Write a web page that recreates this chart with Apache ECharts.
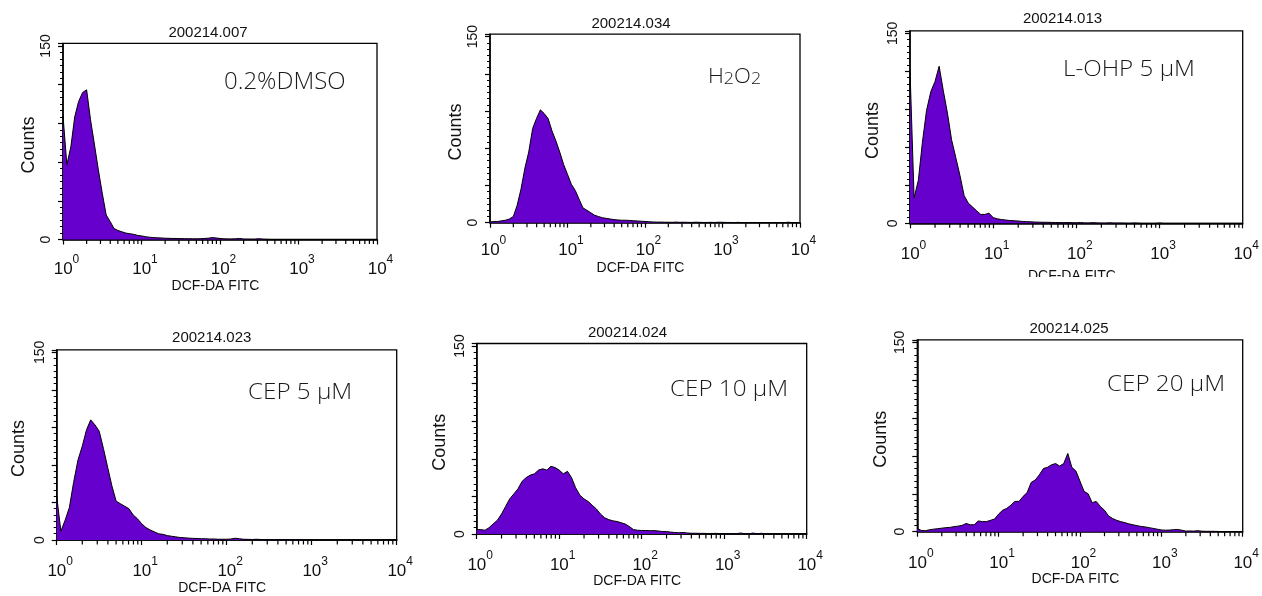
<!DOCTYPE html>
<html>
<head>
<meta charset="utf-8">
<title>DCF-DA FITC histograms</title>
<script src="https://cdn.jsdelivr.net/npm/echarts@6/dist/echarts.min.js"></script>
<style>
html, body { margin: 0; padding: 0; background: #fff; }
#main { width: 1262px; height: 596px; }
</style>
</head>
<body>
<div id="main"></div>
<script>
// channel positions (log scale, 20 channels per decade)
var channels = [1, 1.12, 1.26, 1.41, 1.58, 1.78, 2, 2.24, 2.51, 2.82, 3.16, 3.55, 3.98, 4.47, 5.01, 5.62, 6.31, 7.08, 7.94, 8.91,
	10, 11.2, 12.6, 14.1, 15.8, 17.8, 20, 22.4, 25.1, 28.2, 31.6, 35.5, 39.8, 44.7, 50.1, 56.2, 63.1, 70.8, 79.4, 89.1,
	100, 112, 126, 141, 158, 178, 200, 224, 251, 282, 316, 355, 398, 447, 501, 562, 631, 708, 794, 891,
	1000, 1120, 1260, 1410, 1580, 1780, 2000, 2240, 2510, 2820, 3160, 3550, 3980, 4470, 5010, 5620, 6310, 7080, 7940, 8910, 10000];

var sampleIds = ['200214.007', '200214.034', '200214.013', '200214.023', '200214.024', '200214.025'];
var groupNames = ['0.2%DMSO', 'H2O2', 'L-OHP 5 μM', 'CEP 5 μM', 'CEP 10 μM', 'CEP 20 μM'];

var countsDmso = [96, 58, 72, 95, 107, 114, 116, 93, 74, 54,
	36, 19, 14, 8.5, 7, 6, 5, 4.5, 4, 3.2,
	2.8, 2.2, 1.8, 1.5, 1.3, 1.2, 1, 0.9, 0.8, 0.8,
	0.7, 0.6, 0.6, 0.5, 0.5, 0.6, 0.8, 1, 1.5, 1.2,
	0.8, 0.5, 0.4, 0.4, 0.5, 0.8, 0.3, 0.3, 0.2, 0.3,
	0.6, 0.2, 0.1, 0, 0, 0, 0, 0, 0, 0,
	0, 0, 0, 0, 0, 0, 0, 0, 0, 0,
	0, 0, 0, 0, 0, 0, 0, 0, 0, 0, 0];
var countsH2o2 = [0.5, 1, 1, 1.5, 2, 3, 5, 14, 27, 44,
	57, 76, 84, 91, 88, 84, 74, 66, 57, 47,
	39, 31, 26, 19, 12, 10, 8, 6, 5, 4,
	3.5, 3, 2.5, 2.2, 2, 2, 1.8, 1.6, 1.4, 1.2,
	1, 0.8, 0.6, 0.5, 0.5, 0.4, 0.4, 0.3, 0.5, 0.3,
	0.4, 0.3, 0.2, 0.4, 0.3, 0.2, 0.2, 0.3, 0.2, 0.4,
	0.3, 0.2, 0.2, 0, 0.3, 0, 0, 0, 0, 0,
	0, 0, 0, 0, 0, 0, 0, 0.4, 0, 0, 0];
var countsLohp = [121, 20, 34, 64, 89, 104, 112, 124, 105, 87,
	66, 52, 38, 22, 16, 13, 10, 7, 7, 8,
	4.5, 3.5, 3, 2.6, 2.2, 2, 1.8, 1.5, 1.3, 1.2,
	1, 0.9, 0.8, 0.8, 0.7, 0.6, 0.6, 0.5, 0.6, 0.5,
	0.4, 0.6, 0.3, 0.3, 0.5, 0.3, 0.2, 0.2, 0.4, 0.2,
	0.2, 0.2, 0.1, 0.1, 0.3, 0.1, 0, 0, 0, 0,
	0.3, 0, 0, 0, 0, 0, 0, 0, 0, 0,
	0, 0, 0, 0, 0, 0, 0, 0, 0, 0, 0];
var countsCep5 = [35, 7, 16, 26, 46, 64, 75, 88, 96, 92,
	87, 73, 58, 43, 31, 29, 27, 25, 20, 17,
	13, 10, 8, 6.5, 5, 4.5, 3.5, 3, 2.5, 2,
	1.8, 1.5, 1.3, 1.2, 1, 1, 0.8, 0.8, 0.6, 0.6,
	0.6, 0.8, 1.4, 1, 0.6, 0.5, 0.4, 0.6, 0.4, 0.3,
	0.3, 0.2, 0.3, 0.2, 0.2, 0.3, 0.2, 0.1, 0.1, 0.1,
	0, 0, 0, 0, 0, 0, 0, 0.3, 0, 0,
	0, 0, 0, 0, 0, 0, 0, 0, 0, 0, 0];
var countsCep10 = [3.5, 3.5, 3, 5, 8, 11, 16, 22, 28, 32,
	36, 42, 45, 47, 48, 51, 52, 51, 54, 53,
	51, 48, 50, 45, 37, 31, 28, 26, 23, 20,
	16, 13, 11.5, 10.5, 10, 9, 8, 6, 3.5, 3,
	2.8, 2.8, 2.6, 2.7, 2.4, 2, 1.9, 1.5, 1.2, 1,
	1.2, 0.8, 0.6, 0.6, 0.5, 0.5, 0.4, 0.4, 0.5, 0.3,
	0.3, 0.2, 0.3, 0.2, 0.8, 0.2, 0.1, 0.8, 0.1, 0.6,
	0.1, 0, 0, 0, 0, 0, 0, 0, 0, 0, 0];
var countsCep20 = [2.6, 1, 0.8, 1.5, 2, 2.4, 2.8, 3.2, 3.4, 4,
	4.4, 5, 6.5, 5.5, 5.5, 8.5, 8, 8, 9, 10,
	14, 17, 18.5, 21, 24, 24, 28, 31, 39, 41,
	45, 50, 51, 53, 54, 52, 54, 62, 51, 48,
	40, 32, 30, 23, 24, 20, 17, 12.5, 10.5, 9,
	8, 7.2, 6.2, 5.5, 4.8, 4.2, 3.8, 3.2, 2.6, 2,
	1.4, 1.2, 1.3, 1.6, 1.8, 1.2, 0.5, 0.6, 0.5, 0.8,
	0.4, 0.3, 0.3, 0.3, 0.2, 0.1, 0, 0, 0, 0, 0];

var allCounts = [countsDmso, countsH2o2, countsLohp, countsCep5, countsCep10, countsCep20];

var decadeTicks = [1, 10, 100, 1000, 10000];
var countTicks = [0, 150];

// layout of each panel
var layout = [
	{ grid: [63, 43.4, 314, 196.1], title: [208, 25], label: [224, 82.5, 24, 1], countsGap: 25, tickMargin: 14.5, nameGap: 31 },
	{ grid: [490, 34.2, 310, 188.5], title: [631, 16.5], label: [708, 77, 21, 1.05], countsGap: 25, tickMargin: 12, nameGap: 38 },
	{ grid: [910, 30.8, 334.3, 192.5], title: [1062.5, 11.5], label: [1063, 69.5, 22, 1.1], countsGap: 27.7, tickMargin: 16, nameGap: 46 },
	{ grid: [56.7, 349.8, 340, 190.2], title: [211.7, 330.5], label: [248, 392.5, 22, 1.1], countsGap: 28.7, tickMargin: 16, nameGap: 39.7 },
	{ grid: [476.7, 343.5, 330, 190.5], title: [627.5, 325], label: [670, 389.5, 22, 1.1], countsGap: 27.7, tickMargin: 15.5, nameGap: 37 },
	{ grid: [917.3, 339.8, 335, 191.9], title: [1069, 321], label: [1107, 384.5, 22, 1.1], countsGap: 27.6, tickMargin: 16, nameGap: 38 }
];

// minor log ticks 2..9 in every decade
var minorTickValues = [];
for (var d = 0; d < decadeTicks.length - 1; d++) {
	for (var m = 2; m <= 9; m++) {
		minorTickValues.push(decadeTicks[d] * m);
	}
}

var FILL = '#6600cc';
var INK = '#111';

var chart = echarts.init(document.getElementById('main'), null, { renderer: 'canvas' });

var grids = [], xAxes = [], yAxes = [], series = [], titles = [], graphics = [];

layout.forEach(function (p, i) {
	grids.push({
		left: p.grid[0], top: p.grid[1], width: p.grid[2], height: p.grid[3],
		show: true, borderColor: '#000', borderWidth: 1.3, backgroundColor: 'transparent'
	});
	xAxes.push({
		gridIndex: i,
		type: 'log',
		logBase: 10,
		min: decadeTicks[0],
		max: decadeTicks[decadeTicks.length - 1],
		name: 'DCF-DA FITC',
		nameLocation: 'middle',
		nameGap: p.nameGap,
		nameTextStyle: { fontFamily: 'Liberation Sans', fontSize: 14, color: INK, padding: [0, 9, 0, 0] },
		axisLine: { show: true, onZero: false, lineStyle: { color: '#000', width: 1.5 } },
		axisTick: { show: true, inside: false, length: 5, lineStyle: { color: '#000', width: 1.2 } },
		splitLine: { show: false },
		axisLabel: {
			margin: p.tickMargin,
			fontFamily: 'Liberation Sans',
			color: INK,
			formatter: function (v) {
				var e = Math.round(Math.log(v) / Math.LN10);
				return '{b|10}{s|' + e + '}';
			},
			rich: {
				b: { fontSize: 17, lineHeight: 24, verticalAlign: 'bottom', padding: [0, 0, 0, 7], fontFamily: 'Liberation Sans', color: INK },
				s: { fontSize: 12, lineHeight: 10, verticalAlign: 'top', fontFamily: 'Liberation Sans', color: INK }
			}
		}
	});
	yAxes.push({
		gridIndex: i,
		type: 'value',
		min: 0,
		max: 152,
		interval: 30,
		name: 'Counts',
		nameLocation: 'middle',
		nameGap: p.countsGap,
		nameTextStyle: { fontFamily: 'Liberation Sans', fontSize: 18, color: INK, padding: [0, 7, 0, 0] },
		axisLine: { show: true, lineStyle: { color: '#000', width: 1.5 } },
		axisTick: { show: true, inside: false, length: 5, lineStyle: { color: '#000', width: 1.2 } },
		minorTick: { show: true, splitNumber: 6, length: 3, lineStyle: { color: '#000', width: 1 } },
		splitLine: { show: false },
		axisLabel: {
			rotate: 90,
			margin: 10,
			fontFamily: 'Liberation Sans',
			fontSize: 14,
			color: INK,
			formatter: function (v) {
				return countTicks.indexOf(v) >= 0 ? String(v) : '';
			}
		}
	});
	series.push({
		type: 'line',
		xAxisIndex: i,
		yAxisIndex: i,
		data: channels.map(function (c, j) { return [c, allCounts[i][j]]; }),
		symbol: 'none',
		silent: true,
		lineStyle: { color: '#000', width: 1 },
		areaStyle: { color: FILL, opacity: 1 },
		z: 2
	});
	// minor ticks of the log axis, placed through the axis scale
	series.push({
		type: 'custom',
		xAxisIndex: i,
		yAxisIndex: i,
		data: minorTickValues.map(function (v) { return [v, 0]; }),
		encode: { x: 0, y: 1 },
		clip: false,
		silent: true,
		z: 4,
		renderItem: function (params, api) {
			var pt = api.coord([api.value(0), 0]);
			return {
				type: 'line',
				shape: { x1: pt[0], y1: pt[1] + 0.5, x2: pt[0], y2: pt[1] + 4.5 },
				style: { stroke: '#000', lineWidth: 1.2 }
			};
		}
	});
	titles.push({
		text: sampleIds[i],
		left: p.title[0],
		top: p.title[1],
		textAlign: 'center',
		padding: 0,
		textStyle: { fontFamily: 'Liberation Sans', fontSize: 15, fontWeight: 'normal', color: INK }
	});
	graphics.push({
		type: 'text',
		x: p.label[0],
		y: p.label[1],
		scaleX: p.label[3],
		z: 10,
		style: {
			// digits right after a capital letter become subscripts (H2O2)
			text: groupNames[i].replace(/([A-Z])(\d)/g, '$1{d|$2}'),
			fontFamily: 'Open Sans',
			fontWeight: 300,
			fontSize: p.label[2],
			fill: '#1a1a1a',
			verticalAlign: 'middle',
			rich: {
				d: { fontSize: 17, lineHeight: 16, verticalAlign: 'bottom', fontFamily: 'Open Sans', fontWeight: 300, fill: '#1a1a1a' }
			}
		}
	});
});

// the source image is cut off just under the third x-axis name
graphics.push({
	type: 'rect',
	z: 100,
	shape: { x: 1000, y: 277, width: 160, height: 20 },
	style: { fill: '#fff' }
});

chart.setOption({
	animation: false,
	backgroundColor: '#fff',
	title: titles,
	grid: grids,
	xAxis: xAxes,
	yAxis: yAxes,
	series: series,
	graphic: graphics
});
</script>
</body>
</html>
